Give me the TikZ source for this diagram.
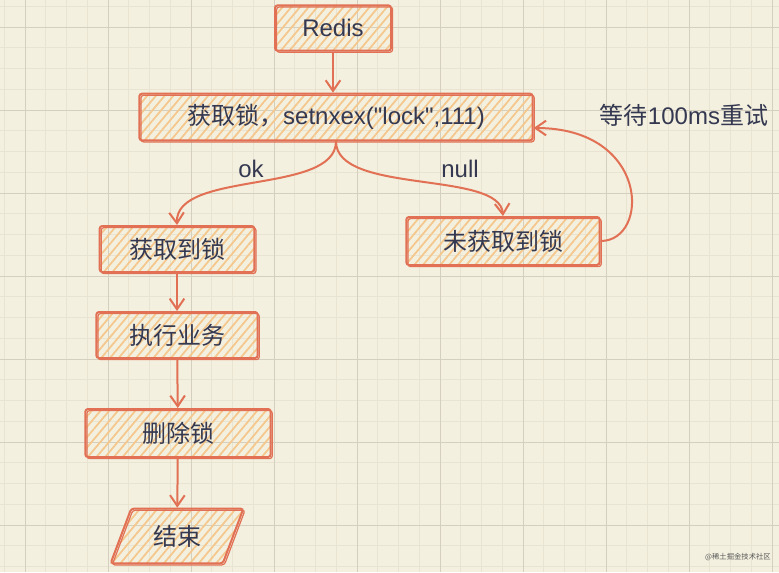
\documentclass[tikz,border=0pt]{standalone}
\usepackage{fontspec}
\setmainfont[Ligatures=TeXOff]{Liberation Sans}
\newfontfamily\cjk{Noto Sans CJK SC}
\usepackage{tikz}
\usepackage{xcolor}
\usetikzlibrary{arrows.meta}
\usetikzlibrary{patterns.meta}
\usetikzlibrary{shapes.geometric}
\usetikzlibrary{calc}

\definecolor{paper}{RGB}{243,240,223}
\definecolor{gridmaj}{RGB}{212,207,190}
\definecolor{gridmin}{RGB}{233,228,209}
\definecolor{rough}{RGB}{225,112,84}
\definecolor{hatch}{RGB}{245,199,140}
\definecolor{ink}{RGB}{52,56,80}

\begin{document}
\begin{tikzpicture}[x=0.75pt,y=0.75pt,yscale=-1,xscale=1,
	sketch/.style={draw=rough, line width=1.5pt, rounded corners=2pt, pattern={Lines[angle=50,distance=5pt,line width=1.3pt]}, pattern color=hatch, text=ink, font=\fontsize{18}{21}\selectfont, inner sep=0pt, postaction={draw=rough, line width=0.9pt, transform canvas={xshift=1.2pt,yshift=-1.2pt}}},
	note/.style={text=ink, font=\fontsize{18}{21}\selectfont, inner sep=0.75pt},
	link/.style={draw=rough, line width=1.5pt, -{Straight Barb[length=8pt,width=11pt,line width=1.5pt]}},
	gridminor/.style={draw=gridmin, line width=0.75pt},
	gridmajor/.style={draw=gridmaj, line width=0.75pt}]
	%set diagram left start at 0, and has height of 572
	\useasboundingbox (0,0) rectangle (779,572);
	\fill [paper] (0,0) rectangle (779,572);

	%Grid Lines
	\foreach \k in {0,...,37} \draw [gridminor] ({4.25+20.75*\k},0) -- ({4.25+20.75*\k},572);
	\foreach \k in {0,...,27} \draw [gridminor] (0,{6.25+20.75*\k}) -- (779,{6.25+20.75*\k});
	\foreach \k in {0,...,9} \draw [gridmajor] ({25+83*\k},0) -- ({25+83*\k},572);
	\foreach \k in {0,...,6} \draw [gridmajor] (0,{27+83*\k}) -- (779,{27+83*\k});

	% Shape: Rectangle
	\node (redis) at (333,28) [sketch, minimum width=87pt, minimum height=34pt] {Redis};
	% Shape: Rectangle
	\node (getlock) at (336,117) [sketch, minimum width=295pt, minimum height=35pt] {{\cjk 获取锁，}setnxex("lock",111)};
	% Shape: Rectangle
	\node (gotlock) at (177,249) [sketch, minimum width=116pt, minimum height=34.5pt] {\cjk 获取到锁};
	% Shape: Rectangle
	\node (notlock) at (503,241) [sketch, minimum width=145pt, minimum height=36pt] {\cjk 未获取到锁};
	% Shape: Rectangle
	\node (work) at (177,335) [sketch, minimum width=121pt, minimum height=34.5pt] {\cjk 执行业务};
	% Shape: Rectangle
	\node (dellock) at (178,433) [sketch, minimum width=139pt, minimum height=36pt] {\cjk 删除锁};
	% Shape: Parallelogram
	\node (finish) at (177,536) [sketch, shape=trapezium, trapezium left angle=64, trapezium right angle=116, trapezium stretches=true, minimum width=100pt, minimum height=41pt] {\cjk 结束};

	% Text Node
	\node (ok) at (251,169) [note] {ok};
	% Text Node
	\node (null) at (460,169) [note] {null};
	% Text Node
	\node (wait) at (684,115) [note] {{\cjk 等待}100ms{\cjk 重试}};
	% Text Node
	\node (mark) at (738,557) [text=black!65, font=\cjk\fontsize{5.5}{6}\selectfont, inner sep=0pt] {@稀土掘金技术社区};

	%Straight Lines
	\draw [link] (redis.south) -- (redis.south |- getlock.north);
	%Curve Lines
	\draw [link] (getlock.south) .. controls (336,195) and (175,170) .. (gotlock.north);
	%Curve Lines
	\draw [link] (getlock.south) .. controls (336,195) and (500,170) .. (notlock.north);
	%Straight Lines
	\draw [link] (gotlock) -- (work);
	%Straight Lines
	\draw [link] (work) -- (dellock);
	%Straight Lines
	\draw [link] (dellock) -- (finish);
	%Curve Lines
	\coordinate (retry) at ($(getlock.east)+(0,11)$);
	\draw [link] (notlock.east) .. controls (650,241) and (650,128) .. (retry);

\end{tikzpicture}
\end{document}
